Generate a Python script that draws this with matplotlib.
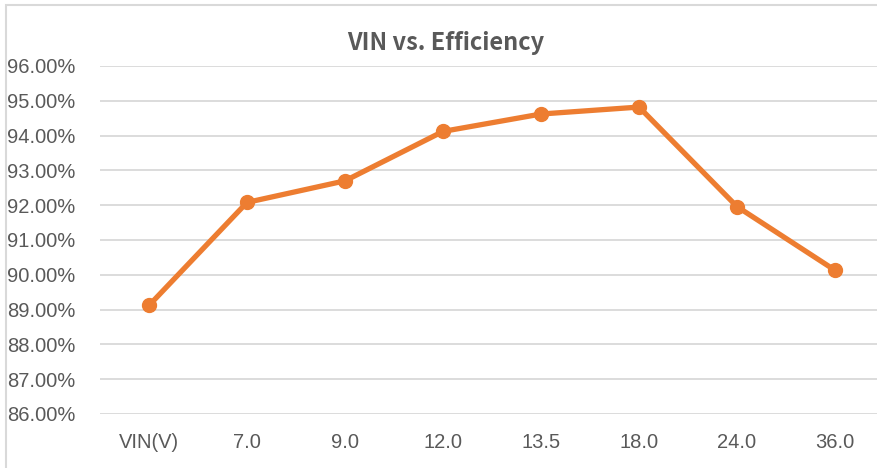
import matplotlib.pyplot as plt
from matplotlib.patches import Rectangle
from matplotlib.ticker import FuncFormatter

categories = ['VIN(V)', '7.0', '9.0', '12.0', '13.5', '18.0', '24.0', '36.0']
efficiency = [89.12, 92.08, 92.70, 94.12, 94.62, 94.82, 91.96, 90.13]
y_ticks = [86, 87, 88, 89, 90, 91, 92, 93, 94, 95, 96]

W, H = 877, 468
fig = plt.figure(figsize=(W / 100, H / 100), dpi=100)

# chart border (only left and top edges visible in the crop)
fig.patches.append(Rectangle((6 / W, -0.1), 1.2, 1.1 - 5 / H, transform=fig.transFigure,
                             fill=False, edgecolor='#D9D9D9', linewidth=1.5))

ax = fig.add_axes([100 / W, (H - 414) / H, 784 / W, (414 - 66) / H])
x = list(range(len(categories)))
ax.plot(x, efficiency, color='#ED7D31', linewidth=3.8, marker='o', markersize=10,
        solid_capstyle='round', zorder=3)

ax.set_xlim(-0.5, len(categories) - 0.5)
ax.set_ylim(86, 96)
ax.set_yticks(y_ticks)
ax.yaxis.set_major_formatter(FuncFormatter(lambda v, p: f'{v:.2f}%'))
ax.set_xticks(x)
ax.set_xticklabels(categories)
ax.grid(axis='y', color='#D9D9D9', linewidth=1.3)
ax.set_axisbelow(True)
for s in ax.spines.values():
    s.set_visible(False)
ax.tick_params(length=0, labelsize=14.5, labelcolor='#595959', pad=0)
ax.tick_params(axis='y', pad=18)
ax.tick_params(axis='x', pad=14)
for lbl in ax.get_xticklabels() + ax.get_yticklabels():
    lbl.set_family('Liberation Sans')

fig.text(446 / W, 1 - 43 / H, 'VIN vs. Efficiency', ha='center', va='center',
         fontsize=17, fontweight='bold', color='#595959', family='Noto Sans CJK SC')

fig.savefig('out.png', dpi=100)
